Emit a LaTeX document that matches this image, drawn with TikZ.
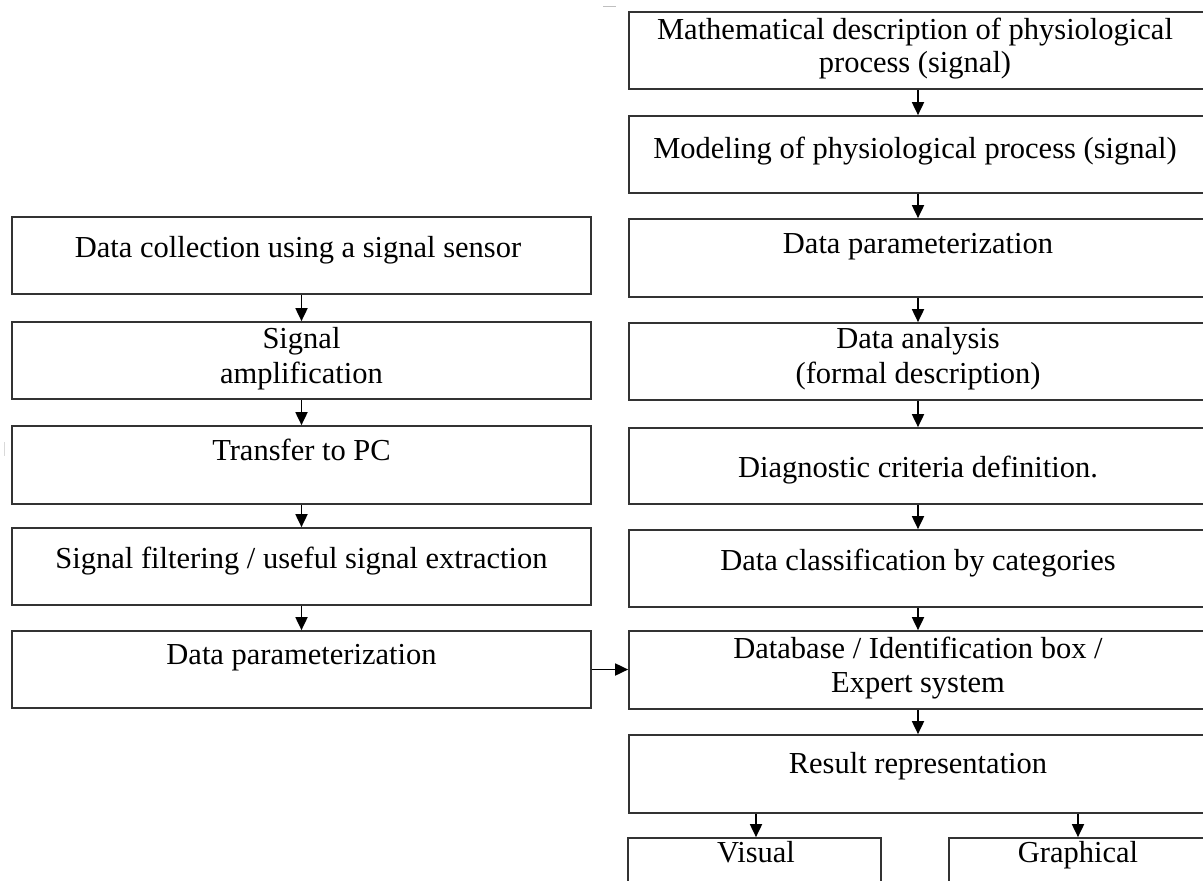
\documentclass[tikz,border=0pt]{standalone}
\usepackage{fontspec}
\setmainfont{Liberation Serif}
\usetikzlibrary{arrows.meta}
\begin{document}
\begin{tikzpicture}[x=1pt,y=-1pt,
  box/.style={draw=black!80, line width=1.7pt, rectangle, inner sep=0pt},
  lbox/.style={box, minimum width=579pt, minimum height=77pt},
  rbox/.style={box, minimum width=578pt, minimum height=77pt},
  lbl/.style={anchor=base, font=\fontsize{30.5}{35}\selectfont, text=black, inner sep=0pt},
  arr/.style={draw=black, line width=1.8pt, -{Triangle[length=13pt,width=12pt]}}]
\useasboundingbox (0,0) rectangle (1203,881);
\clip (0,0) rectangle (1203,881);

% left column: signal acquisition chain
\node[lbox] (L1) at (301.5,255.5) {};
\node[lbox] (L2) at (301.5,360.5) {};
\node[lbox, minimum height=78pt] (L3) at (301.5,465) {};
\node[lbox] (L4) at (301.5,566.5) {};
\node[lbox] (L5) at (301.5,669.5) {};

\node[lbl] (tL1) at (298,257) {Data collection using a signal sensor};
\node[lbl] (tL2a) at (301.5,348) {Signal};
\node[lbl] (tL2b) at (301.5,383) {amplification};
\node[lbl] (tL3) at (301.5,460) {Transfer to PC};
\node[lbl] (tL4) at (301.5,568) {Signal filtering / useful signal extraction};
\node[lbl] (tL5) at (301.5,664) {Data parameterization};

% right column: modelling and decision chain
\node[rbox] (R1) at (918,50.5) {};
\node[rbox] (R2) at (918,154.5) {};
\node[rbox, minimum height=78pt] (R3) at (918,258) {};
\node[rbox] (R4) at (918,361.5) {};
\node[rbox, minimum height=76pt] (R5) at (918,466) {};
\node[rbox] (R6) at (918,568.5) {};
\node[rbox, minimum height=78pt] (R7) at (918,670) {};
\node[rbox, minimum height=78pt] (R8) at (918,774) {};
\node[box, minimum width=253pt, minimum height=92pt] (V) at (754.5,884) {};
\node[box, minimum width=258pt, minimum height=92pt] (G) at (1078,884) {};

\node[lbl] (tR1a) at (915,39) {Mathematical description of physiological};
\node[lbl] (tR1b) at (915,72) {process (signal)};
\node[lbl] (tR2) at (915,158) {Modeling of physiological process (signal)};
\node[lbl] (tR3) at (918,253) {Data parameterization};
\node[lbl] (tR4a) at (918,348) {Data analysis};
\node[lbl] (tR4b) at (918,383) {(formal description)};
\node[lbl] (tR5) at (918,477) {Diagnostic criteria definition.};
\node[lbl] (tR6) at (918,570) {Data classification by categories};
\node[lbl] (tR7a) at (918,658) {Database / Identification box /};
\node[lbl] (tR7b) at (918,692) {Expert system};
\node[lbl] (tR8) at (918,773) {Result representation};
\node[lbl] (tV) at (756,862) {Visual};
\node[lbl] (tG) at (1078,862) {Graphical};

% connectors
\draw[arr] (L1.south) -- (L2.north);
\draw[arr] (L2.south) -- (L3.north);
\draw[arr] (L3.south) -- (L4.north);
\draw[arr] (L4.south) -- (L5.north);
\draw[arr] (L5.east) -- (L5.east -| R7.west);

\draw[arr] (R1.south) -- (R2.north);
\draw[arr] (R2.south) -- (R3.north);
\draw[arr] (R3.south) -- (R4.north);
\draw[arr] (R4.south) -- (R5.north);
\draw[arr] (R5.south) -- (R6.north);
\draw[arr] (R6.south) -- (R7.north);
\draw[arr] (R7.south) -- (R8.north);
\draw[arr] (R8.south -| tV.base) -- (tV.base |- V.north);
\draw[arr] (R8.south -| G.north) -- (G.north);

% stray page marks
\draw[black!25, line width=1pt] (603,6) -- (616,6);
\draw[black!15, line width=1pt] (4,442) -- (4,456);
\end{tikzpicture}
\end{document}
